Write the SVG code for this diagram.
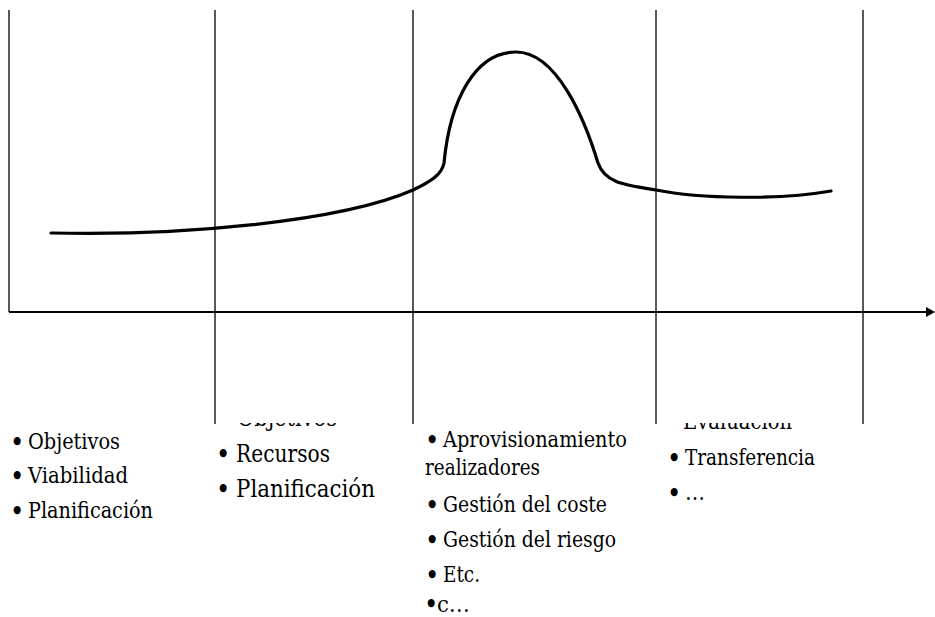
<svg xmlns="http://www.w3.org/2000/svg" width="935" height="617" viewBox="0 0 935 617">
<style>
.grid{stroke:#000;stroke-width:1.3;fill:none}
.axis{stroke:#000;stroke-width:2.2;fill:none}
.curve{stroke:#000;stroke-width:3.2;fill:none;stroke-linecap:round}
text{fill:#000;font-family:'DejaVu Serif Condensed','DejaVu Serif','Liberation Serif',serif;font-stretch:condensed}
.t{font-size:22px}
.t2{font-size:25px}
.b{font-size:27px}
</style>
<defs>
<marker id="arr" markerWidth="10" markerHeight="10" refX="8" refY="5" orient="auto" markerUnits="userSpaceOnUse">
<path d="M0,0 L9,5 L0,10 Z" fill="#000"/>
</marker>
<clipPath id="cut"><rect x="0" y="423" width="935" height="194"/></clipPath>
</defs>
<g id="connectors">
<line class="grid" x1="9" y1="10" x2="9" y2="312"/>
<line class="grid" x1="215" y1="10" x2="215" y2="424"/>
<line class="grid" x1="413" y1="10" x2="413" y2="424"/>
<line class="grid" x1="656" y1="10" x2="656" y2="424"/>
<line class="grid" x1="863" y1="10" x2="863" y2="424"/>
<line class="axis" x1="9" y1="312" x2="934" y2="312" marker-end="url(#arr)"/>
<path id="curve" class="curve" d="M51,233 C180,236 340,222 413,190 C432,181 442,174 444,163 C450,100 475,52 516,52 C557,52 585,120 598,163 C605,183 625,185 656,190 C700,199 780,200 831,191"/>
</g>
<g id="col1">
<text class="t" x="10" y="451.5"><tspan class="b">•</tspan><tspan x="28" y="449" textLength="92" lengthAdjust="spacingAndGlyphs">Objetivos</tspan></text>
<text class="t" x="10" y="485.5"><tspan class="b">•</tspan><tspan x="28" y="483" textLength="100" lengthAdjust="spacingAndGlyphs">Viabilidad</tspan></text>
<text class="t" x="10" y="520.5"><tspan class="b">•</tspan><tspan x="28" y="518" textLength="125" lengthAdjust="spacingAndGlyphs">Planificación</tspan></text>
</g>
<g id="col2">
<text class="t2" x="237" y="426" clip-path="url(#cut)" textLength="100" lengthAdjust="spacingAndGlyphs">Objetivos</text>
<text class="t2" x="216" y="464"><tspan class="b">•</tspan><tspan x="236" y="462" textLength="94" lengthAdjust="spacingAndGlyphs">Recursos</tspan></text>
<text class="t2" x="216" y="499"><tspan class="b">•</tspan><tspan x="236" y="497" textLength="139" lengthAdjust="spacingAndGlyphs">Planificación</tspan></text>
</g>
<g id="col3">
<text class="t" x="425" y="449.5"><tspan class="b">•</tspan><tspan x="443" y="447" textLength="184" lengthAdjust="spacingAndGlyphs">Aprovisionamiento</tspan></text>
<text class="t" x="425" y="475" textLength="115" lengthAdjust="spacingAndGlyphs">realizadores</text>
<text class="t" x="425" y="514.5"><tspan class="b">•</tspan><tspan x="443" y="512" textLength="164" lengthAdjust="spacingAndGlyphs">Gestión del coste</tspan></text>
<text class="t" x="425" y="549.5"><tspan class="b">•</tspan><tspan x="443" y="547" textLength="173" lengthAdjust="spacingAndGlyphs">Gestión del riesgo</tspan></text>
<text class="t" x="425" y="584.5"><tspan class="b">•</tspan><tspan x="443" y="582" textLength="37" lengthAdjust="spacingAndGlyphs">Etc.</tspan></text>
<text class="t" x="424" y="614"><tspan class="b">•</tspan><tspan x="437" y="612" textLength="33" lengthAdjust="spacingAndGlyphs">c…</tspan></text>
</g>
<g id="col4">
<text class="t" x="683" y="429" clip-path="url(#cut)" textLength="109" lengthAdjust="spacingAndGlyphs">Evaluación</text>
<text class="t" x="667" y="467.5"><tspan class="b">•</tspan><tspan x="685" y="465" textLength="130" lengthAdjust="spacingAndGlyphs">Transferencia</tspan></text>
<text class="t" x="667" y="502.5"><tspan class="b">•</tspan><tspan x="685" y="500" textLength="20" lengthAdjust="spacingAndGlyphs">…</tspan></text>
</g>
</svg>
